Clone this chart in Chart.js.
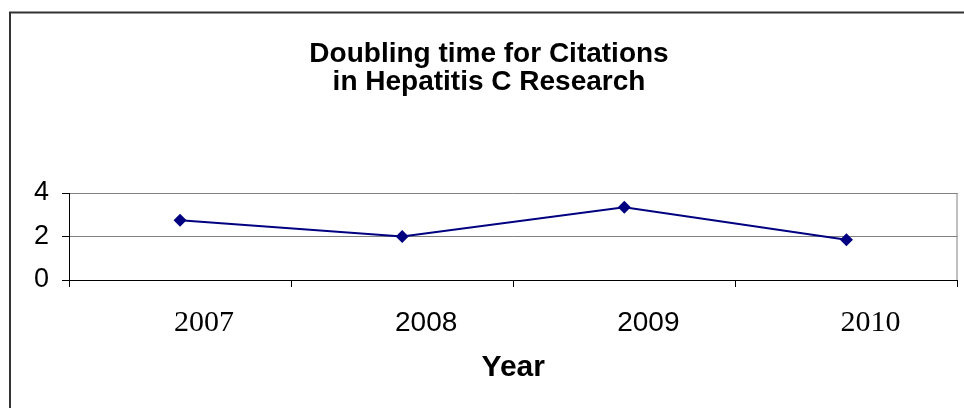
<!DOCTYPE html>
<html>
<head>
<meta charset="utf-8">
<script src="https://cdn.jsdelivr.net/npm/chart.js@4/dist/chart.umd.min.js"></script>
<style>
  html, body { margin: 0; padding: 0; background: #fff; overflow: hidden; }
  #wrap { width: 964px; height: 408px; }
</style>
</head>
<body>
<div id="wrap"><canvas id="myChart"></canvas></div>
<script>
var years = ["2007", "2008", "2009", "2010"];
var doublingTime = [2.75, 2.0, 3.35, 1.85];
var yTicks = [0, 2, 4];
// years whose labels are set in a sans font in the original
var sansYears = ["2008", "2009"];

var SANS = "'Liberation Sans', Arial, sans-serif";
var SERIF = "'Liberation Serif', 'Times New Roman', serif";

// outer frame of the chart object + right edge of plot area
var framePlugin = {
    id: 'frame',
    beforeDraw: function (chart) {
        var c = chart.ctx;
        c.save();
        c.strokeStyle = '#333';
        c.lineWidth = 2;
        c.beginPath();
        c.moveTo(10, 420);
        c.lineTo(10, 12.5);
        c.lineTo(980, 12.5);
        c.stroke();
        c.restore();
    },
    beforeDatasetsDraw: function (chart) {
        var a = chart.chartArea;
        var c = chart.ctx;
        c.save();
        c.strokeStyle = '#808080';
        c.lineWidth = 1;
        c.beginPath();
        c.moveTo(a.right - 0.5, a.top);
        c.lineTo(a.right - 0.5, a.bottom);
        c.stroke();
        c.restore();
    }
};

function tickFont(c) {
    var lbl = c.tick && c.tick.label !== undefined ? String(c.tick.label) : years[c.index];
    if (sansYears.indexOf(lbl) >= 0) {
        return { family: SANS, size: 28, lineHeight: '36px' };
    }
    return { family: SERIF, size: 30, lineHeight: '36px' };
}

var ctx = document.getElementById('myChart').getContext('2d');
var myChart = new Chart(ctx, {
    type: 'line',
    data: {
        labels: years,
        datasets: [
            {
                label: "Doubling time",
                data: doublingTime,
                borderColor: "#000080",
                backgroundColor: "#000080",
                borderWidth: 2,
                tension: 0,
                pointStyle: 'rectRot',
                pointRadius: 6.5,
                pointBorderWidth: 0
            }
        ]
    },
    options: {
        responsive: true,
        maintainAspectRatio: false,
        animation: false,
        layout: { padding: { left: 20, right: 6, top: 0, bottom: 0 } },
        scales: {
            x: {
                offset: true,
                grid: {
                    display: true,
                    drawOnChartArea: false,
                    offset: true,
                    tickLength: 7,
                    color: '#000',
                    tickColor: '#000'
                },
                border: { color: '#000', width: 1 },
                ticks: {
                    color: '#000',
                    padding: 18,
                    labelOffset: 24,
                    maxRotation: 0,
                    font: tickFont
                },
                title: {
                    display: true,
                    text: 'Year',
                    color: '#000',
                    padding: { top: 0, bottom: 22 },
                    font: { family: SANS, size: 30, weight: 'bold' }
                },
                afterFit: function (scale) { scale.height = 128; }
            },
            y: {
                min: 0,
                max: 4,
                afterBuildTicks: function (scale) {
                    scale.ticks = yTicks.map(function (v) { return { value: v }; });
                },
                grid: {
                    color: '#808080',
                    tickColor: '#000',
                    tickLength: 7,
                    lineWidth: 1
                },
                border: { color: '#000', width: 1 },
                ticks: {
                    color: '#000',
                    padding: 13,
                    font: { family: SANS, size: 27, lineHeight: 1.0 }
                },
                afterFit: function (scale) { scale.width = 49; }
            }
        },
        plugins: {
            legend: { display: false },
            tooltip: { enabled: false },
            title: {
                display: true,
                text: ['Doubling time for Citations', 'in Hepatitis C Research'],
                color: '#000',
                padding: { top: 40, bottom: 97 },
                font: { family: SANS, size: 28, weight: 'bold', lineHeight: 1 }
            }
        }
    },
    plugins: [framePlugin]
});
</script>
</body>
</html>
